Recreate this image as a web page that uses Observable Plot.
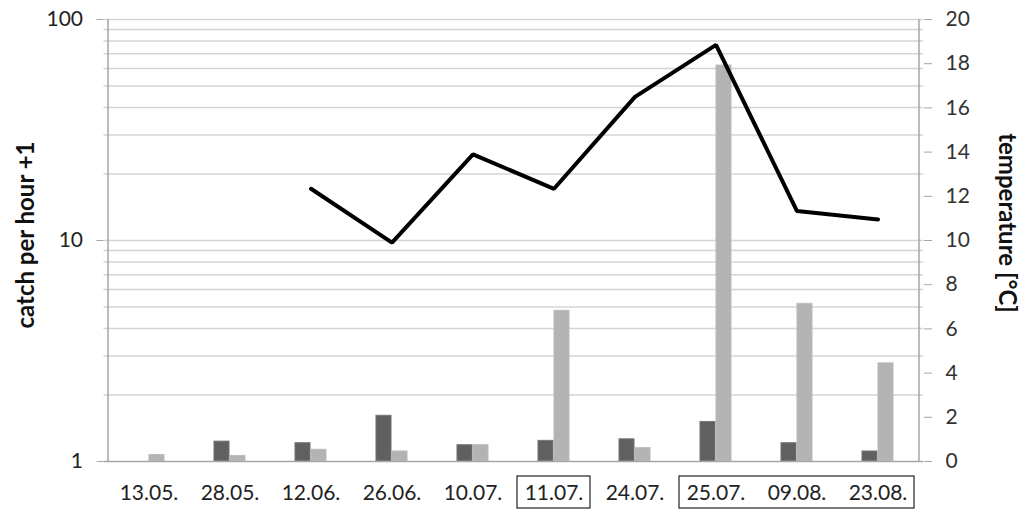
<!DOCTYPE html>
<html>
<head>
<meta charset="utf-8">
<script src="https://cdn.jsdelivr.net/npm/d3@7"></script>
<script src="https://cdn.jsdelivr.net/npm/@observablehq/plot@0.6"></script>
<style>
  html, body { margin: 0; padding: 0; background: #fff; }
  #chart { position: relative; width: 1024px; height: 516px; }
  .ytitle { position: absolute; font-family: Lato, "Open Sans", sans-serif; font-weight: bold; font-size: 24px; color: #111; white-space: nowrap; }
</style>
</head>
<body>
<div id="chart"></div>
<script>
// ---- data ----
const dates = ["13.05.", "28.05.", "12.06.", "26.06.", "10.07.", "11.07.", "24.07.", "25.07.", "09.08.", "23.08."];
const catchDark  = [1.0, 1.23, 1.21, 1.61, 1.185, 1.24, 1.26, 1.51, 1.21, 1.11];
const catchLight = [1.07, 1.06, 1.13, 1.11, 1.185, 4.81, 1.15, 61.9, 5.17, 2.78];
const temperature = [null, null, 12.34, 9.9, 13.9, 12.34, 16.5, 18.85, 11.33, 10.95];
const leftTicks = [1, 10, 100];
const gridValues = [2, 3, 4, 5, 6, 7, 8, 9, 10, 20, 30, 40, 50, 60, 70, 80, 90, 100];
const tempTicks = [0, 2, 4, 6, 8, 10, 12, 14, 16, 18, 20];
const boxedGroups = [["11.07.", "11.07."], ["25.07.", "23.08."]];

// temperature 0..20 is drawn on the same vertical span as catch 1..100 (log)
const tempToY = t => Math.pow(10, t / 10);

const rows = dates.map((d, i) => ({date: d, dark: catchDark[i], light: catchLight[i], temp: temperature[i]}));
const tempRows = rows.filter(r => r.temp != null);

const W = 1024, H = 516;
const mL = 103.5, mR = 101, mT = 19, mB = 55;
const bw = (W - mL - mR) / dates.length;
const barW = 16;

const font = "Lato, 'Open Sans', sans-serif";

const plot = Plot.plot({
  width: W, height: H,
  marginLeft: mL, marginRight: mR, marginTop: mT, marginBottom: mB,
  style: {fontFamily: font, fontSize: "21px", color: "#222", background: "white"},
  x: {domain: dates, padding: 0, label: null},
  y: {type: "log", domain: [1, 100], label: null},
  marks: [
    Plot.ruleY(gridValues, {y: d => d, stroke: "#d4d4d4", strokeWidth: 1.5, strokeOpacity: 1}),
    Plot.barY(rows, {x: "date", y1: 1, y2: "dark", fill: "#606060", stroke: "#777", strokeWidth: 1,
      insetLeft: bw / 2 - barW, insetRight: bw / 2}),
    Plot.barY(rows, {x: "date", y1: 1, y2: "light", fill: "#b3b3b3", stroke: "#bcbcbc", strokeWidth: 1,
      insetLeft: bw / 2, insetRight: bw / 2 - barW}),
    Plot.line(tempRows, {x: "date", y: d => tempToY(d.temp), stroke: "#000", strokeWidth: 4, strokeLinejoin: "miter", strokeLinecap: "round"}),
    // axis frame lines
    Plot.ruleX([dates[0]], {x: d => d, y1: 1, y2: 100, dx: -bw / 2, stroke: "#a6a6a6", strokeWidth: 1.5}),
    Plot.ruleX([dates[dates.length - 1]], {x: d => d, y1: 1, y2: 100, dx: bw / 2, stroke: "#a6a6a6", strokeWidth: 1.5}),
    Plot.ruleY([1], {stroke: "#a6a6a6", strokeWidth: 1.5}),
    Plot.axisY(leftTicks, {anchor: "left", tickSize: 7, tickPadding: 14, tickFormat: d => String(d),
      stroke: "#a6a6a6", fill: "#222", fontSize: 21, label: null}),
    Plot.axisY(tempTicks.map(tempToY), {anchor: "right", tickSize: 8, tickPadding: 14,
      tickFormat: v => String(Math.round(10 * Math.log10(v))), stroke: "#a6a6a6", fill: "#333", fontSize: 21, label: null}),
    Plot.axisX({tickSize: 0, tickPadding: 24, fill: "#222", fontSize: 21, label: null})
  ]
});

// boxes around highlighted date labels, placed through the x scale
const xs = plot.scale("x");
const svg = d3.select(plot);
const baseY = H - mB;
for (const [a, b] of boxedGroups) {
  const x1 = xs.apply(a) + 4;
  const x2 = xs.apply(b) + xs.bandwidth - 4;
  svg.append("rect")
    .attr("x", x1).attr("y", baseY + 15)
    .attr("width", x2 - x1).attr("height", 32)
    .attr("fill", "none").attr("stroke", "#222").attr("stroke-width", 1.2);
}

const chart = document.getElementById("chart");
chart.appendChild(plot);

const lt = document.createElement("div");
lt.className = "ytitle";
lt.textContent = "catch per hour +1";
lt.style.left = "24px"; lt.style.top = "235px";
lt.style.transform = "translate(-50%, -50%) rotate(-90deg)";
chart.appendChild(lt);

const rt = document.createElement("div");
rt.className = "ytitle";
rt.textContent = "temperature [°C]";
rt.style.left = "1008px"; rt.style.top = "223px";
rt.style.transform = "translate(-50%, -50%) rotate(90deg)";
chart.appendChild(rt);
</script>
</body>
</html>
